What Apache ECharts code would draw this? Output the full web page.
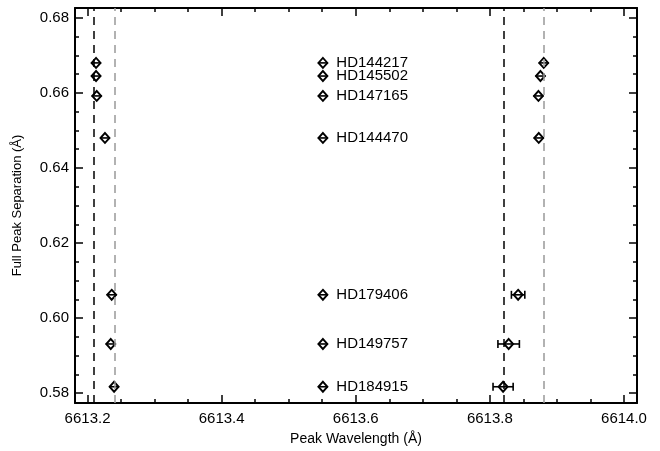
<!DOCTYPE html>
<html>
<head>
<meta charset="utf-8">
<script src="https://cdn.jsdelivr.net/npm/echarts@6/dist/echarts.min.js"></script>
<style>
  html, body { margin: 0; padding: 0; background: #fff; }
  #chart { width: 660px; height: 451px; }
</style>
</head>
<body>
<div id="chart"></div>
<script>
// star names, y = full peak separation
const stars = ['HD144217', 'HD145502', 'HD147165', 'HD144470', 'HD179406', 'HD149757', 'HD184915']
const separation = [0.668, 0.6645, 0.6592, 0.648, 0.6062, 0.5931, 0.5817]

// blue peak (left) and red peak (right) wavelengths + errors
const blueWave = [6613.2127, 6613.2127, 6613.2137, 6613.226, 6613.236, 6613.2346, 6613.2396]
const blueErr = [0.002, 0.003, 0.002, 0.002, 0.002, 0.004, 0.002]
const redWave = [6613.8803, 6613.8754, 6613.8724, 6613.8729, 6613.8421, 6613.828, 6613.8197]
const redErr = [0.002, 0.003, 0.002, 0.002, 0.010, 0.016, 0.015]

// where the name labels sit
const labelWave = 6613.551

// reference lines
const blackLines = [6613.211, 6613.820]
const grayLines = [6613.238, 6613.880]

// ticks
const xMajor = [6613.2, 6613.4, 6613.6, 6613.8, 6614.0]
const xMinor = [6613.25, 6613.3, 6613.35, 6613.45, 6613.5, 6613.55, 6613.65, 6613.7, 6613.75, 6613.85, 6613.9, 6613.95]
const yMajor = [0.58, 0.60, 0.62, 0.64, 0.66, 0.68]
const yMinor = [0.585, 0.59, 0.595, 0.605, 0.61, 0.615, 0.625, 0.63, 0.635, 0.645, 0.65, 0.655, 0.665, 0.67, 0.675]

const font = '"Liberation Sans", Arial, Helvetica, sans-serif'

;(function () {
    const chart = echarts.init(document.getElementById('chart'))

    const xMin = 6613.1813, xMax = 6614.0194
    const yMin = 0.57737, yMax = 0.68263

    // points with errors (both peaks)
    const points = []
    stars.forEach((s, i) => {
        points.push([blueWave[i], separation[i], blueErr[i]])
        points.push([redWave[i], separation[i], redErr[i]])
    })
    const labelPoints = stars.map((s, i) => [labelWave, separation[i], 0, s])

    // axis helpers: major axis with frame + labels, minor axis only ticks
    function xAxisPair(pos, showLabel) {
        return [
            {
                type: 'value', gridIndex: 0, position: pos, offset: 0, min: xMin, max: xMax,
                axisLine: { show: true, onZero: false, lineStyle: { color: '#000', width: 2 } },
                axisTick: { show: true, inside: true, length: 8, customValues: xMajor, lineStyle: { color: '#000', width: 1.5 } },
                axisLabel: { show: showLabel, customValues: xMajor, color: '#000', fontSize: 15, fontFamily: font, margin: 8,
                    formatter: v => v.toFixed(1) },
                splitLine: { show: false },
                name: showLabel ? 'Peak Wavelength (Å)' : '',
                nameLocation: 'middle', nameGap: 29,
                nameTextStyle: { color: '#000', fontSize: 14, fontFamily: font },
            },
            {
                type: 'value', gridIndex: 0, position: pos, offset: 0, min: xMin, max: xMax,
                axisLine: { show: false },
                axisTick: { show: true, inside: true, length: 4, customValues: xMinor, lineStyle: { color: '#000', width: 1.5 } },
                axisLabel: { show: false },
                splitLine: { show: false },
            },
        ]
    }
    function yAxisPair(pos, showLabel) {
        return [
            {
                type: 'value', gridIndex: 0, position: pos, offset: 0, min: yMin, max: yMax,
                axisLine: { show: true, onZero: false, lineStyle: { color: '#000', width: 2 } },
                axisTick: { show: true, inside: true, length: 8, customValues: yMajor, lineStyle: { color: '#000', width: 1.5 } },
                axisLabel: { show: showLabel, customValues: yMajor, color: '#000', fontSize: 15, fontFamily: font, margin: 6,
                    formatter: v => v.toFixed(2) },
                splitLine: { show: false },
                name: showLabel ? 'Full Peak Separation (Å)' : '',
                nameLocation: 'middle', nameGap: 51,
                nameTextStyle: { color: '#000', fontSize: 13, fontFamily: font },
            },
            {
                type: 'value', gridIndex: 0, position: pos, offset: 0, min: yMin, max: yMax,
                axisLine: { show: false },
                axisTick: { show: true, inside: true, length: 4, customValues: yMinor, lineStyle: { color: '#000', width: 1.5 } },
                axisLabel: { show: false },
                splitLine: { show: false },
            },
        ]
    }

    // error bar + horizontal stroke through the diamond
    function renderErr(params, api) {
        const x = api.value(0), y = api.value(1), e = api.value(2)
        const c = api.coord([x, y])
        const lo = api.coord([x - e, y])
        const hi = api.coord([x + e, y])
        const x0 = Math.min(lo[0], c[0] - 5)
        const x1 = Math.max(hi[0], c[0] + 5)
        const style = { stroke: '#000', lineWidth: 1.6 }
        const children = [{ type: 'line', shape: { x1: x0, y1: c[1], x2: x1, y2: c[1] }, style }]
        if (hi[0] - c[0] > 5) {
            children.push({ type: 'line', shape: { x1: lo[0], y1: c[1] - 4, x2: lo[0], y2: c[1] + 4 }, style })
            children.push({ type: 'line', shape: { x1: hi[0], y1: c[1] - 4, x2: hi[0], y2: c[1] + 4 }, style })
        }
        return { type: 'group', children }
    }

    const refLines = blackLines.map(v => ({ xAxis: v, lineStyle: { color: '#000', type: [8, 6], width: 1.5 } }))
        .concat(grayLines.map(v => ({ xAxis: v, lineStyle: { color: '#999', type: [8, 6], width: 1.5 } })))

    // scatter default opacity is 0.8, force solid
    const diamondStyle = { color: '#fff', borderColor: '#000', borderWidth: 1.9, opacity: 1 }

    const option = {
        animation: false,
        backgroundColor: '#fff',
        textStyle: { fontFamily: font },
        grid: { left: 75, right: 23, top: 8, bottom: 44, containLabel: false },
        xAxis: xAxisPair('bottom', true).concat(xAxisPair('top', false)),
        yAxis: yAxisPair('left', true).concat(yAxisPair('right', false)),
        series: [
            {
                type: 'scatter', xAxisIndex: 0, yAxisIndex: 0, silent: true, z: 3,
                symbol: 'diamond', symbolSize: [9, 10],
                itemStyle: diamondStyle,
                data: points.map(p => [p[0], p[1]]),
                markLine: { silent: true, symbol: 'none', label: { show: false }, data: refLines },
            },
            {
                type: 'custom', xAxisIndex: 0, yAxisIndex: 0, silent: true, z: 4,
                renderItem: renderErr,
                encode: { x: 0, y: 1 },
                data: points.concat(labelPoints.map(p => [p[0], p[1], p[2]])),
            },
            {
                type: 'scatter', xAxisIndex: 0, yAxisIndex: 0, silent: true, z: 3,
                symbol: 'diamond', symbolSize: [9, 10],
                itemStyle: diamondStyle,
                label: {
                    show: true, position: 'right', distance: 8, color: '#000', fontSize: 15, fontFamily: font,
                    textBorderWidth: 0,
                    formatter: p => p.data[3],
                },
                data: labelPoints,
            },
        ],
    }

    chart.setOption(option)
})()
</script>
</body>
</html>
